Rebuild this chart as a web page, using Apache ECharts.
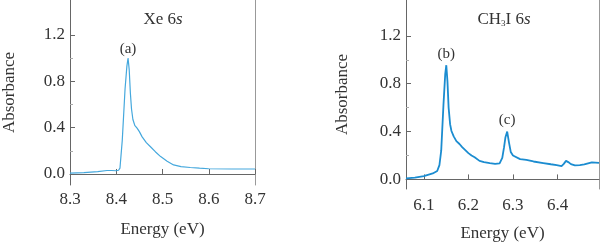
<!DOCTYPE html>
<html><head><meta charset="utf-8">
<script src="https://cdn.jsdelivr.net/npm/echarts@6/dist/echarts.min.js"></script>
<style>html,body{margin:0;padding:0;background:#fff}#c{width:600px;height:247px}</style>
</head><body><div id="c"></div>
<script>
// Xe 6s spectrum
const xeEnergy = [8.30,8.33,8.36,8.38,8.39,8.40,8.405,8.408,8.413,8.419,8.423,8.4255,8.428,8.4305,8.433,8.436,8.440,8.445,8.450,8.456,8.465,8.474,8.485,8.496,8.51,8.524,8.54,8.56,8.58,8.60,8.65,8.70];
const xeAbs    = [0.008,0.012,0.02,0.03,0.03,0.028,0.032,0.05,0.29,0.73,0.93,1.0,0.9,0.70,0.56,0.47,0.42,0.395,0.365,0.32,0.27,0.235,0.19,0.15,0.11,0.078,0.064,0.056,0.05,0.045,0.043,0.043];
// CH3I 6s spectrum
const chEnergy = [6.06,6.08,6.10,6.12,6.13,6.135,6.139,6.144,6.148,6.1504,6.153,6.1556,6.159,6.162,6.167,6.173,6.18,6.186,6.193,6.20,6.207,6.214,6.225,6.235,6.248,6.26,6.27,6.276,6.28,6.283,6.287,6.291,6.295,6.30,6.316,6.33,6.346,6.368,6.385,6.398,6.409,6.414,6.419,6.424,6.43,6.439,6.45,6.46,6.477,6.493];
const chAbs    = [0.008,0.015,0.028,0.05,0.07,0.12,0.24,0.62,0.88,0.955,0.82,0.6,0.46,0.405,0.36,0.32,0.296,0.27,0.245,0.22,0.2,0.185,0.155,0.145,0.137,0.13,0.135,0.18,0.27,0.35,0.40,0.31,0.23,0.2,0.17,0.163,0.15,0.137,0.127,0.12,0.112,0.13,0.155,0.145,0.128,0.117,0.12,0.125,0.142,0.138];
// peak labels
const peaks = [{name:'(a)', series:0, idx:11}, {name:'(b)', series:1, idx:9}, {name:'(c)', series:1, idx:30}];
const yTicks = [0, 0.4, 0.8, 1.2];
const yMinorTicks = [0.2, 0.6, 1.0];
const xTicksL = [8.3, 8.4, 8.5, 8.6, 8.7];
const xTicksR = [6.1, 6.2, 6.3, 6.4];

const FONT = 'Liberation Serif';
const TXT = '#333';
const AX = '#666';
function pairs(xs, ys){ return xs.map((x,i)=>[x, ys[i]]); }
function xAx(grid, min, max, ticks, gap, margin){
  return {type:'value', gridIndex:grid, min:min, max:max,
    name:'Energy (eV)', nameLocation:'middle', nameGap:gap,
    nameTextStyle:{fontFamily:FONT, fontSize:17, color:TXT},
    axisLine:{show:true, lineStyle:{color:AX, width:1}},
    axisTick:{show:true, inside:true, length:5, customValues:ticks, lineStyle:{color:AX}},
    axisLabel:{fontFamily:FONT, fontSize:17, color:TXT, margin:margin, customValues:ticks, formatter:v=>v.toFixed(1)},
    splitLine:{show:false}};
}
function yAx(grid, min, max, gap){
  return {type:'value', gridIndex:grid, min:min, max:max,
    name:'Absorbance', nameLocation:'middle', nameGap:gap, nameRotate:90,
    nameTextStyle:{fontFamily:FONT, fontSize:17, color:TXT},
    axisLine:{show:true, lineStyle:{color:AX, width:1}},
    axisTick:{show:true, inside:true, length:5, customValues:yTicks, lineStyle:{color:AX}},
    axisLabel:{fontFamily:FONT, fontSize:17, color:TXT, margin:5, customValues:yTicks, formatter:v=>v.toFixed(1)},
    splitLine:{show:false}};
}
function yMinor(grid, min, max){
  return {type:'value', gridIndex:grid, min:min, max:max, position:'left',
    axisLine:{show:false},
    axisTick:{show:true, inside:true, length:3, customValues:yMinorTicks, lineStyle:{color:'#aaa'}},
    axisLabel:{show:false}, splitLine:{show:false}};
}
function yRight(grid, min, max){
  return {type:'value', gridIndex:grid, min:min, max:max, position:'right',
    axisLine:{show:true, onZero:false, lineStyle:{color:'#999', width:1}},
    axisTick:{show:false}, axisLabel:{show:false}, splitLine:{show:false}};
}
const seriesData = [pairs(xeEnergy, xeAbs), pairs(chEnergy, chAbs)];
function marks(s){
  return peaks.filter(p=>p.series===s).map(p=>({
    coord: seriesData[s][p.idx], value:p.name,
    label:{show:true, position:'top', distance: p.name==='(a)'?1:4, formatter:p.name,
      fontFamily:FONT, fontSize:15, color:TXT}
  }));
}
const chart = echarts.init(document.getElementById('c'), null, {renderer:'canvas'});
chart.setOption({
  animation:false,
  title:[
    {text:'{n|Xe 6}{i|s}', left:158, top:6, textAlign:'center',
     textStyle:{fontWeight:'normal', rich:{n:{fontFamily:FONT,fontSize:17,fontWeight:'normal',color:TXT}, i:{fontFamily:FONT,fontSize:17,fontWeight:'normal',fontStyle:'italic',color:TXT}}}},
    {text:'{n|CH}{sub|3}{n|I 6}{i|s}', left:499, top:6, textAlign:'center',
     textStyle:{fontWeight:'normal', rich:{n:{fontFamily:FONT,fontSize:17,fontWeight:'normal',color:TXT}, sub:{fontFamily:FONT,fontSize:9,fontWeight:'normal',color:TXT,verticalAlign:'bottom',padding:[8,0,0,0]}, i:{fontFamily:FONT,fontSize:17,fontWeight:'normal',fontStyle:'italic',color:TXT}}}}
  ],
  grid:[
    {left:69, top:0, width:186, height:185},
    {left:406, top:0, width:193, height:193}
  ],
  xAxis:[xAx(0, 8.3, 8.7, xTicksL, 36, 6), xAx(1, 6.06, 6.493, xTicksR, 36, 8)],
  yAxis:[yAx(0, -0.095, 1.5, 52), yAx(1, -0.08, 1.5, 55), yRight(0, -0.095, 1.5), yRight(1, -0.08, 1.5), yMinor(0, -0.095, 1.5), yMinor(1, -0.08, 1.5)],
  series:[
    {type:'line', xAxisIndex:0, yAxisIndex:0, data:seriesData[0], showSymbol:false, smooth:false,
     lineStyle:{color:'#45a8dd', width:1.2},
     markPoint:{symbol:'circle', symbolSize:0, data:marks(0)}},
    {type:'line', xAxisIndex:1, yAxisIndex:1, data:seriesData[1], showSymbol:false, smooth:false,
     lineStyle:{color:'#1b8cd0', width:1.8},
     markPoint:{symbol:'circle', symbolSize:0, data:marks(1)}}
  ]
});
</script></body></html>
